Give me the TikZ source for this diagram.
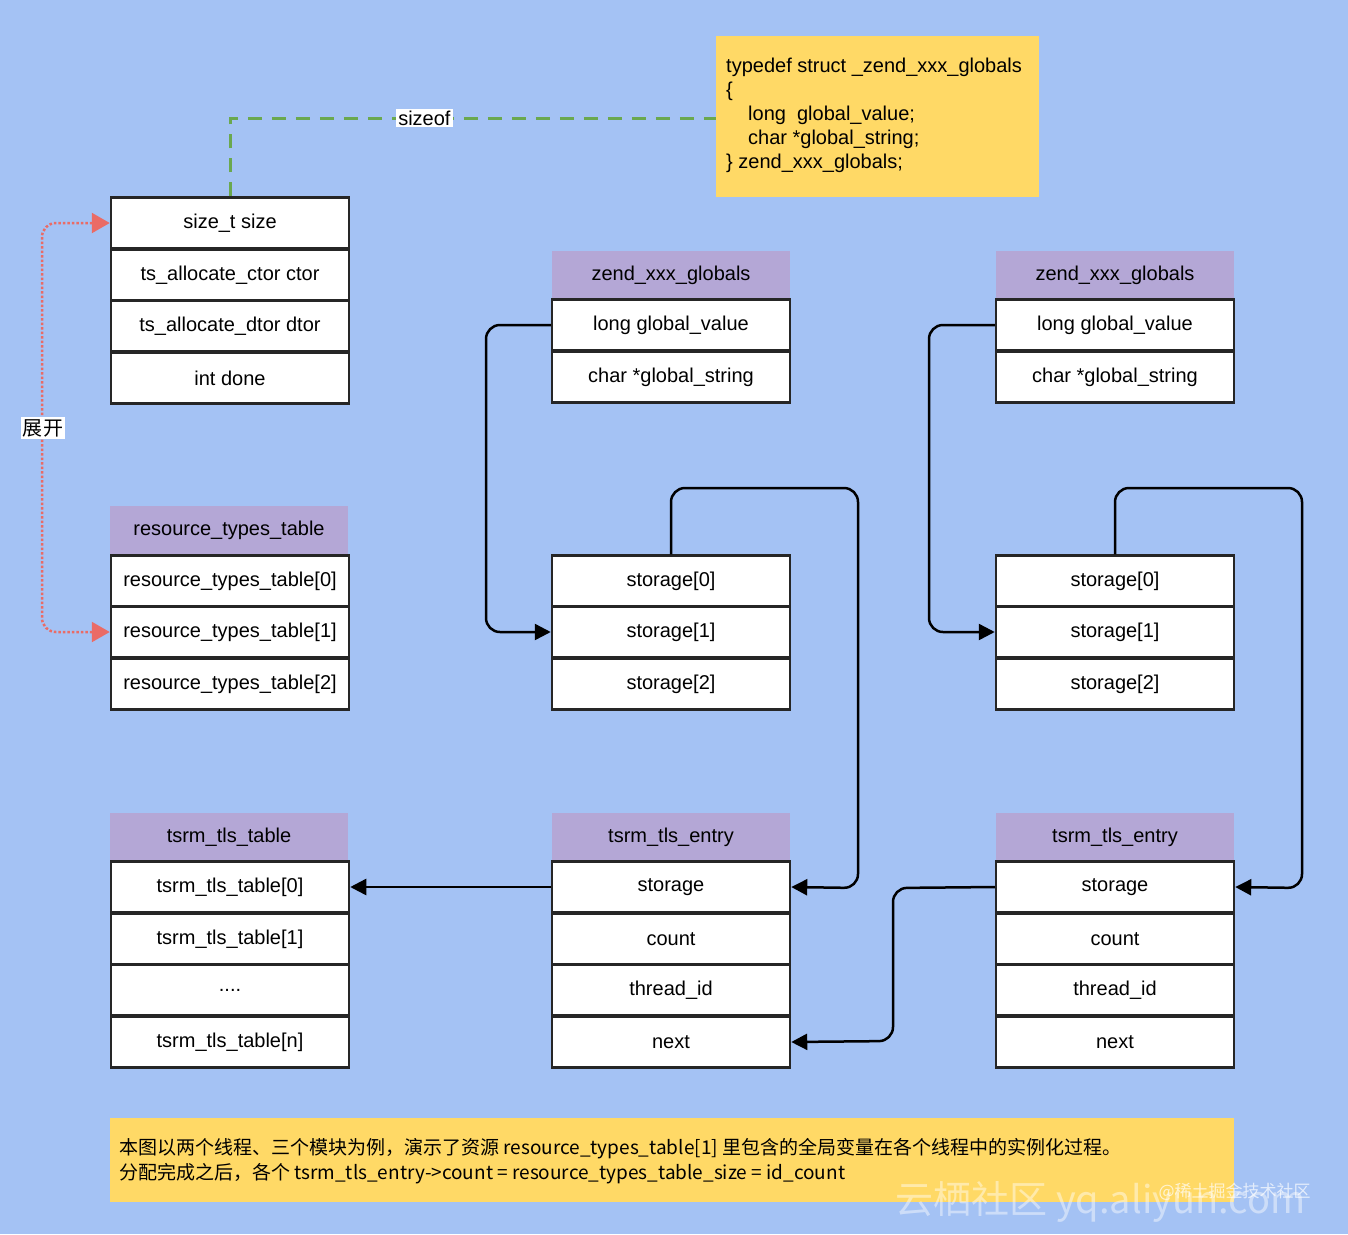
\documentclass[tikz,border=0pt]{standalone}
\usepackage{fontspec}
\setmainfont{Liberation Sans}
\newfontfamily\cjk{Noto Sans CJK SC}
\usetikzlibrary{arrows.meta}
\definecolor{bg}{HTML}{A4C2F4}
\definecolor{hd}{HTML}{B4A7D6}
\definecolor{yl}{HTML}{FFD966}
\definecolor{gr}{HTML}{6AA84F}
\definecolor{rd}{HTML}{EA6B66}
\begin{document}
\begin{tikzpicture}[x=1pt,y=-1pt,
 row/.style={draw=black!85,fill=white,line width=2.5pt,minimum width=238pt,minimum height=51pt,inner sep=0pt,font=\fontsize{20}{24}\selectfont},
 hdr/.style={fill=hd,minimum width=238pt,minimum height=48pt,inner sep=0pt,font=\fontsize{20}{24}\selectfont},
 con/.style={line width=2.5pt,rounded corners=14pt,-{Triangle[length=16pt,width=16pt]}},
 lbl/.style={fill=white,inner sep=2pt,font=\fontsize{20}{24}\selectfont}]
\fill[bg] (0,0) rectangle (1348,1234);
\useasboundingbox (0,0) rectangle (1348,1234);
% typedef
\node[fill=yl,minimum width=323pt,minimum height=161pt,anchor=north west] (td) at (716,36) {};
\node[anchor=north west,align=left,font=\fontsize{20}{24}\selectfont,inner sep=0pt] (tdt) at (726,58) {typedef struct \_zend\_xxx\_globals\\\{\\\hspace{22pt}long\ \ global\_value;\\\hspace{22pt}char *global\_string;\\\} zend\_xxx\_globals;};
% left struct
\node[row] (s1) at (230,223) {size\_t size};
\node[row] (s2) at (230,275) {ts\_allocate\_ctor ctor};
\node[row] (s3) at (230,326) {ts\_allocate\_dtor dtor};
\node[row] (s4) at (230,378) {int done};
% resource types table
\node[hdr] (rh) at (229,530) {resource\_types\_table};
\node[row] (r0) at (230,581) {resource\_types\_table[0]};
\node[row] (r1) at (230,632) {resource\_types\_table[1]};
\node[row] (r2) at (230,684) {resource\_types\_table[2]};
% zend globals
\node[hdr] (za) at (671,275) {zend\_xxx\_globals};
\node[row] (za1) at (671,325) {long global\_value};
\node[row] (za2) at (671,377) {char *global\_string};
\node[hdr] (zb) at (1115,275) {zend\_xxx\_globals};
\node[row] (zb1) at (1115,325) {long global\_value};
\node[row] (zb2) at (1115,377) {char *global\_string};
% storage
\node[row] (sa0) at (671,581) {storage[0]};
\node[row] (sa1) at (671,632) {storage[1]};
\node[row] (sa2) at (671,684) {storage[2]};
\node[row] (sb0) at (1115,581) {storage[0]};
\node[row] (sb1) at (1115,632) {storage[1]};
\node[row] (sb2) at (1115,684) {storage[2]};
% tsrm tls table
\node[hdr] (th) at (229,837) {tsrm\_tls\_table};
\node[row] (t0) at (230,887) {tsrm\_tls\_table[0]};
\node[row] (t1) at (230,939) {tsrm\_tls\_table[1]};
\node[row] (t2) at (230,990) {....};
\node[row] (t3) at (230,1042) {tsrm\_tls\_table[n]};
% entries
\node[hdr] (ea) at (671,837) {tsrm\_tls\_entry};
\node[row] (ea1) at (671,887) {storage};
\node[row] (ea2) at (671,939) {count};
\node[row] (ea3) at (671,990) {thread\_id};
\node[row] (ea4) at (671,1042) {next};
\node[hdr] (eb) at (1115,837) {tsrm\_tls\_entry};
\node[row] (eb1) at (1115,887) {storage};
\node[row] (eb2) at (1115,939) {count};
\node[row] (eb3) at (1115,990) {thread\_id};
\node[row] (eb4) at (1115,1042) {next};
% note
\node[fill=yl,minimum width=1124pt,minimum height=84pt,anchor=north west] (nt) at (110,1118) {};
\node[anchor=north west,align=left,font=\cjk\fontsize{19}{25}\selectfont,inner sep=0pt] (ntt) at (119,1138) {本图以两个线程、三个模块为例，演示了资源 resource\_types\_table[1] 里包含的全局变量在各个线程中的实例化过程。\\分配完成之后，各个 tsrm\_tls\_entry->count = resource\_types\_table\_size = id\_count};
\node[text=white,opacity=0.45,font=\cjk\fontsize{38}{40}\selectfont,anchor=west] (wm) at (892,1202) {云栖社区 yq.aliyun.com};
\node[text=white,opacity=0.7,font=\cjk\fontsize{17}{20}\selectfont,anchor=west] (wm2) at (1155,1192) {@稀土掘金技术社区};
% connectors
\draw[gr,line width=3pt,dash pattern=on 14pt off 10pt] (s1.north) -- (230,118) -- (td.west |- 0,118) node[pos=0.4,lbl,text=black] (sz) {sizeof};
\draw[rd,line width=2.5pt,dotted,rounded corners=14pt,{Triangle[length=18pt,width=20pt]}-{Triangle[length=18pt,width=20pt]}] (s1.west) -- (42,223) -- (42,632) -- (r1.west);
\node[lbl] (zk) at (43,428) {\cjk 展开};
\draw[con] (za1.west) -- (486,325) -- (486,632) -- (sa1.west);
\draw[con] (zb1.west) -- (929,325) -- (929,632) -- (sb1.west);
\draw[con] (sa0.north) -- (671,488) -- (858,488) -- (858,888) -- (ea1.east);
\draw[con] (sb0.north) -- (1115,488) -- (1302,488) -- (1302,888) -- (eb1.east);
\draw[con] (ea1.west) -- (t0.east);
\draw[con] (eb1.west) -- (893,888) -- (893,1041) -- (ea4.east);
\end{tikzpicture}
\end{document}
